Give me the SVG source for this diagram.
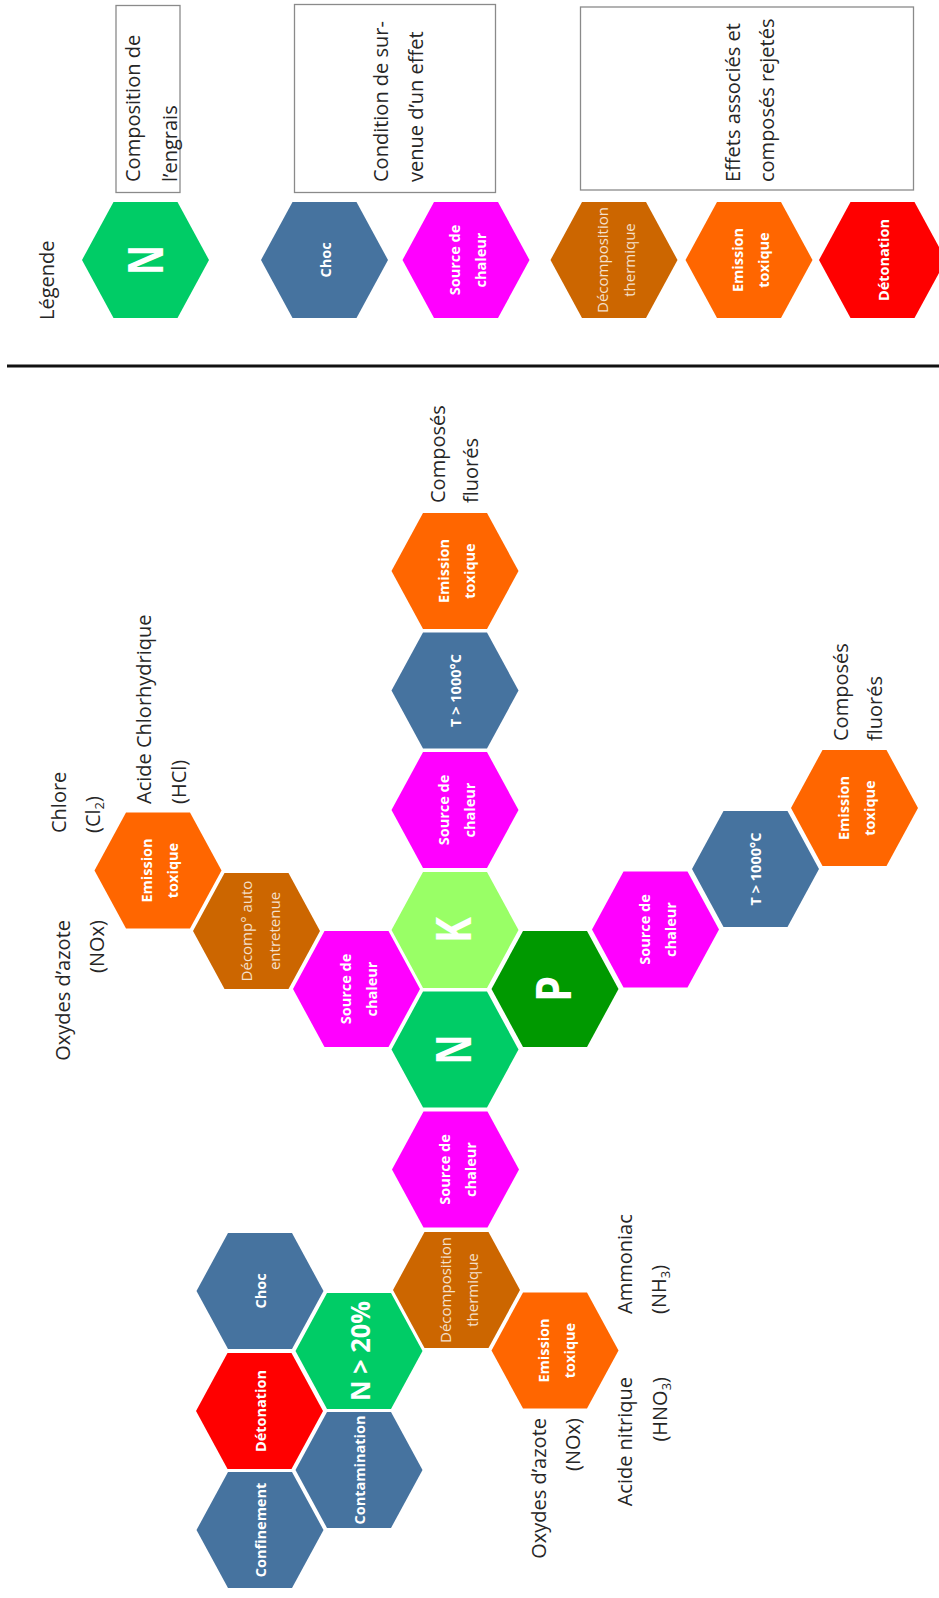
<svg xmlns="http://www.w3.org/2000/svg" xmlns:xlink="http://www.w3.org/1999/xlink" width="939" height="1598" viewBox="0 0 939 1598">
<style>
.lab{font-family:"Open Sans","Liberation Sans",sans-serif;font-size:20px;fill:#262626}
.hb{font-family:"Open Sans","Liberation Sans",sans-serif;font-size:14.5px;font-weight:700;fill:#ffffff;text-anchor:middle}
.hr{font-family:"Open Sans","Liberation Sans",sans-serif;font-size:15px;font-weight:400;fill:#F5E0CC;text-anchor:middle}
.big{font-family:"Open Sans","Liberation Sans",sans-serif;font-size:48px;font-weight:700;fill:#ffffff;text-anchor:middle}
.box{fill:#ffffff;stroke:#8a8a8a;stroke-width:1.3}
.blue{fill:#46739F}.mag{fill:#FF00FF}.brn{fill:#CC6600}.org{fill:#FF6600}.red{fill:#FF0000}
.gN{fill:#00CC66}.gK{fill:#99FF66}.gP{fill:#009900}
</style>
<defs>
<polygon id="hex" points="-63.5,0 -32,-58 32,-58 63.5,0 32,58 -32,58"/>
</defs>
<rect width="939" height="1598" fill="#ffffff"/>

<g id="connectors">
<line x1="7" y1="366" x2="939" y2="366" stroke="#111" stroke-width="3"/>
</g>

<!-- Legend -->
<g id="legend-title"><text class="lab" transform="translate(54,320) rotate(-90)">Légende</text></g>
<g id="legend-box1"><rect class="box" x="116" y="5.5" width="64" height="187"/>
<text class="lab" transform="translate(139.5,182) rotate(-90)"><tspan x="0" y="0">Composition de</tspan><tspan x="0" y="37.5">l’engrais</tspan></text></g>
<g id="legend-box2"><rect class="box" x="294.5" y="4.5" width="201" height="188"/>
<text class="lab" transform="translate(387.7,182) rotate(-90)"><tspan x="0" y="0">Condition de sur-</tspan><tspan x="0" y="35">venue d’un effet</tspan></text></g>
<g id="legend-box3"><rect class="box" x="580.5" y="7" width="333" height="183"/>
<text class="lab" transform="translate(740,182) rotate(-90)"><tspan x="0" y="0">Effets associés et</tspan><tspan x="0" y="33.5">composés rejetés</tspan></text></g>

<g id="leg-N"><use xlink:href="#hex" x="145.5" y="260" class="gN"/><text class="big" textLength="30" lengthAdjust="spacingAndGlyphs" transform="translate(163,260) rotate(-90)">N</text></g>
<g id="leg-choc"><use xlink:href="#hex" x="324.5" y="260" class="blue"/><text class="hb" transform="translate(331,260) rotate(-90)">Choc</text></g>
<g id="leg-source"><use xlink:href="#hex" x="466" y="260" class="mag"/><text class="hb" transform="translate(460,260) rotate(-90)"><tspan x="0" y="0">Source de</tspan><tspan x="0" y="26">chaleur</tspan></text></g>
<g id="leg-decomp"><use xlink:href="#hex" x="614" y="260" class="brn"/><text class="hr" transform="translate(608,260) rotate(-90)"><tspan x="0" y="0">Décomposition</tspan><tspan x="0" y="27">thermique</tspan></text></g>
<g id="leg-emission"><use xlink:href="#hex" x="749" y="260" class="org"/><text class="hb" transform="translate(743,260) rotate(-90)"><tspan x="0" y="0">Emission</tspan><tspan x="0" y="26">toxique</tspan></text></g>
<g id="leg-detonation"><use xlink:href="#hex" x="882.5" y="260" class="red"/><text class="hb" transform="translate(889,260) rotate(-90)">Détonation</text></g>

<!-- Main diagram: vertical K column -->
<g id="em-top"><use xlink:href="#hex" x="455" y="571" class="org"/><text class="hb" transform="translate(449,571) rotate(-90)"><tspan x="0" y="0">Emission</tspan><tspan x="0" y="26">toxique</tspan></text></g>
<g id="t-top"><use xlink:href="#hex" x="455" y="690.5" class="blue"/><text class="hb" transform="translate(460.5,690.5) rotate(-90)">T &gt; 1000°C</text></g>
<g id="src-top"><use xlink:href="#hex" x="455" y="810" class="mag"/><text class="hb" transform="translate(449,810) rotate(-90)"><tspan x="0" y="0">Source de</tspan><tspan x="0" y="26">chaleur</tspan></text></g>
<g id="K"><use xlink:href="#hex" x="455" y="930" class="gK"/><text class="big" textLength="26" lengthAdjust="spacingAndGlyphs" transform="translate(471,930) rotate(-90)">K</text></g>
<g id="N"><use xlink:href="#hex" x="455" y="1049.5" class="gN"/><text class="big" textLength="30" lengthAdjust="spacingAndGlyphs" transform="translate(471,1049.5) rotate(-90)">N</text></g>
<g id="P"><use xlink:href="#hex" x="555" y="989" class="gP"/><text class="big" textLength="26" lengthAdjust="spacingAndGlyphs" transform="translate(571,989) rotate(-90)">P</text></g>

<!-- P branch -->
<g id="src-p"><use xlink:href="#hex" x="655.5" y="929.5" class="mag"/><text class="hb" transform="translate(649.5,929.5) rotate(-90)"><tspan x="0" y="0">Source de</tspan><tspan x="0" y="26">chaleur</tspan></text></g>
<g id="t-p"><use xlink:href="#hex" x="755.5" y="869" class="blue"/><text class="hb" transform="translate(761,869) rotate(-90)">T &gt; 1000°C</text></g>
<g id="em-p"><use xlink:href="#hex" x="854.5" y="808" class="org"/><text class="hb" transform="translate(848.5,808) rotate(-90)"><tspan x="0" y="0">Emission</tspan><tspan x="0" y="26">toxique</tspan></text></g>

<!-- Left upper branch -->
<g id="src-left"><use xlink:href="#hex" x="356.5" y="989" class="mag"/><text class="hb" transform="translate(350.5,989) rotate(-90)"><tspan x="0" y="0">Source de</tspan><tspan x="0" y="26">chaleur</tspan></text></g>
<g id="decomp-auto"><use xlink:href="#hex" x="256.5" y="931" class="brn"/><text class="hr" transform="translate(251.5,931) rotate(-90)"><tspan x="0" y="0">Décomp° auto</tspan><tspan x="0" y="28">entretenue</tspan></text></g>
<g id="em-left"><use xlink:href="#hex" x="158" y="870.5" class="org"/><text class="hb" transform="translate(152,870.5) rotate(-90)"><tspan x="0" y="0">Emission</tspan><tspan x="0" y="26">toxique</tspan></text></g>

<!-- Lower branch -->
<g id="src-bottom"><use xlink:href="#hex" x="455.5" y="1169.5" class="mag"/><text class="hb" transform="translate(449.5,1169.5) rotate(-90)"><tspan x="0" y="0">Source de</tspan><tspan x="0" y="26">chaleur</tspan></text></g>
<g id="decomp-bottom"><use xlink:href="#hex" x="456.5" y="1290" class="brn"/><text class="hr" transform="translate(450.5,1290) rotate(-90)"><tspan x="0" y="0">Décomposition</tspan><tspan x="0" y="27">thermique</tspan></text></g>
<g id="em-bottom"><use xlink:href="#hex" x="555" y="1350.5" class="org"/><text class="hb" transform="translate(549,1350.5) rotate(-90)"><tspan x="0" y="0">Emission</tspan><tspan x="0" y="26">toxique</tspan></text></g>
<g id="n20"><use xlink:href="#hex" x="359" y="1351" class="gN"/><text class="big" style="font-size:27px" textLength="100" lengthAdjust="spacingAndGlyphs" transform="translate(369.5,1351) rotate(-90)">N &gt; 20%</text></g>
<g id="choc"><use xlink:href="#hex" x="260" y="1291" class="blue"/><text class="hb" transform="translate(266,1291) rotate(-90)">Choc</text></g>
<g id="detonation"><use xlink:href="#hex" x="259.5" y="1411" class="red"/><text class="hb" transform="translate(266,1411) rotate(-90)">Détonation</text></g>
<g id="contamination"><use xlink:href="#hex" x="359" y="1470" class="blue"/><text class="hb" transform="translate(365,1470) rotate(-90)">Contamination</text></g>
<g id="confinement"><use xlink:href="#hex" x="260" y="1530" class="blue"/><text class="hb" transform="translate(266,1530) rotate(-90)">Confinement</text></g>

<!-- Black labels -->
<g id="lbl-chlore"><text class="lab" transform="translate(66,833) rotate(-90)"><tspan x="0" y="0">Chlore</tspan><tspan x="0" y="34">(Cl<tspan font-size="13" dy="4">2</tspan><tspan dy="-4">)</tspan></tspan></text></g>
<g id="lbl-hcl"><text class="lab" transform="translate(151,804) rotate(-90)"><tspan x="0" y="0">Acide Chlorhydrique</tspan><tspan x="0" y="35">(HCl)</tspan></text></g>
<g id="lbl-nox-top"><text class="lab" text-anchor="end" transform="translate(70,920) rotate(-90)"><tspan x="0" y="0">Oxydes d’azote</tspan><tspan x="0" y="33.5">(NOx)</tspan></text></g>
<g id="lbl-cf-top"><text class="lab" transform="translate(445,503) rotate(-90)"><tspan x="0" y="0">Composés</tspan><tspan x="0" y="33">fluorés</tspan></text></g>
<g id="lbl-cf-right"><text class="lab" transform="translate(848,741) rotate(-90)"><tspan x="0" y="0">Composés</tspan><tspan x="0" y="34">fluorés</tspan></text></g>
<g id="lbl-nh3"><text class="lab" transform="translate(631.5,1314) rotate(-90)"><tspan x="0" y="0">Ammoniac</tspan><tspan x="0" y="34">(NH<tspan font-size="13" dy="4">3</tspan><tspan dy="-4">)</tspan></tspan></text></g>
<g id="lbl-hno3"><text class="lab" text-anchor="end" transform="translate(631.5,1377) rotate(-90)"><tspan x="0" y="0">Acide nitrique</tspan><tspan x="0" y="35">(HNO<tspan font-size="13" dy="4">3</tspan><tspan dy="-4">)</tspan></tspan></text></g>
<g id="lbl-nox-bottom"><text class="lab" text-anchor="end" transform="translate(545.5,1418) rotate(-90)"><tspan x="0" y="0">Oxydes d’azote</tspan><tspan x="0" y="34.5">(NOx)</tspan></text></g>
</svg>
